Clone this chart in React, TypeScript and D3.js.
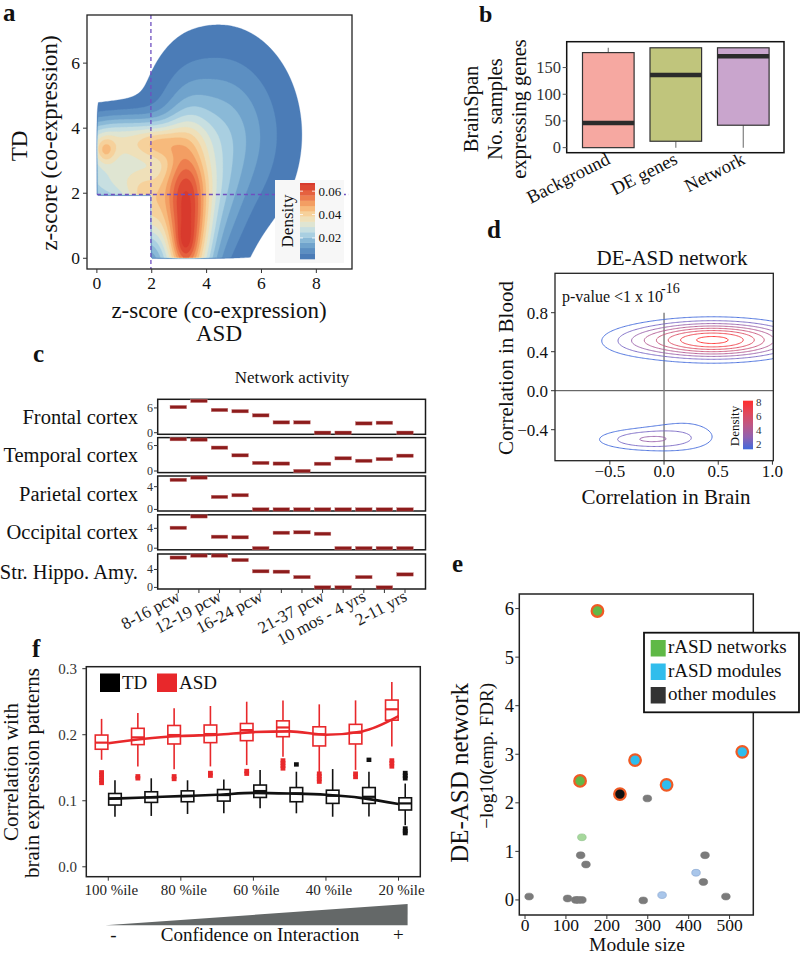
import React, { useMemo } from "react";
import * as d3 from "d3";

const FONT = "'Liberation Serif', 'Times New Roman', serif";

/* ---------------- panel a : density of z-scores ---------------- */
const aXTicks = [0, 2, 4, 6, 8];
const aYTicks = [0, 2, 4, 6];
const aLegendTicks = [0.02, 0.04, 0.06];
const aThresholds = [0.0025, 0.007, 0.0115, 0.016, 0.0205, 0.025, 0.0295, 0.034, 0.0385, 0.043, 0.0475, 0.052, 0.0565, 0.061, 0.0655];
const aPalette = ["#4171b1", "#5d91c4", "#87b9d7", "#c4e3eb", "#f0e8c8", "#f9cd8c", "#f4985a", "#e45c3d", "#d7372b"];
// density surface components: broad, ridge, ridge peak, right shoulder, upper-left plateau (2), lower plateau, arm, left peak
const aKernelX = [4.5, 3.25, 3.2, 4.4, 0.8, 0.8, 1.8, 2.2, 0.3];
const aKernelY = [3.8, 1.0, 0.45, 1.5, 2.4, 3.7, 1.3, 3.5, 3.3];
const aKernelSX = [1.5, 0.6, 0.25, 0.7, 1.5, 1.5, 0.55, 0.55, 0.28];
const aKernelSY = [1.7, 1.8, 0.4, 1.5, 0.7, 0.5, 0.8, 0.35, 0.3];
const aKernelA = [0.0178, 0.058, 0.008, 0.009, 0.028, 0.027, 0.026, 0.013, 0.014];
const aCut = [1.97, 1.96];

/* ---------------- panel b : BrainSpan boxplot ---------------- */
const bCategories = ["Background", "DE genes", "Network"];
const bMin = [0, 0, 0];
const bQ1 = [0, 12, 42];
const bMedian = [46, 136, 171];
const bQ3 = [178, 187, 187];
const bMax = [187, 187, 187];
const bColors = ["#f6a8a1", "#c0c57c", "#c9a5cd"];
const bYTicks = [0, 50, 100, 150];

/* ---------------- panel c : network activity ---------------- */
const cPeriods = ["8-16 pcw", "", "12-19 pcw", "", "16-24 pcw", "", "", "21-37 pcw", "", "10 mos - 4 yrs", "", "2-11 yrs"];
const cRegions = ["Frontal cortex", "Temporal cortex", "Parietal cortex", "Occipital cortex", "Str. Hippo. Amy."];
const cFrontal = [6.2, 7.7, 5.5, 5.2, 4.2, 2.5, 2.5, 0, 0, 2.25, 2.4, 0];
const cTemporal = [7.5, 7.4, 5.5, 3.7, 1.9, 1.75, 0, 1.7, 3.0, 2.4, 2.8, 3.6];
const cParietal = [5.2, 5.6, 2.2, 2.5, 0, 0, 0, 0, 0, 0, 0, 0];
const cOccipital = [4.1, 6.4, 2.3, 2.2, 0, 3.1, 3.2, 2.9, 0, 0, 0, 0];
const cStrHippo = [6.65, 7.1, 7.1, 6.1, 3.6, 3.5, 2.3, 0, 0, 2.3, 0, 2.9];
const cTicks = [[0, 6], [0, 6], [0, 4], [0, 4], [0, 4]];

/* ---------------- panel d : brain vs blood correlation ---------------- */
const dXTicks = [-0.5, 0, 0.5, 1.0];
const dXLabels = ["\u22120.5", "0.0", "0.5", "1.0"];
const dYTicks = [-0.4, 0, 0.4, 0.8];
const dYLabels = ["\u22120.4", "0.0", "0.4", "0.8"];
const dLevels = [1.2, 2.2, 3.2, 4.2, 5.2, 6.2, 7.2, 8.2];
const dLegendTicks = [2, 4, 6, 8];
const dKernelX = [0.25, 0.65, -0.3, -0.2, 0.2];
const dKernelY = [0.52, 0.52, 0.5, -0.5, -0.44];
const dKernelSX = [0.42, 0.42, 0.25, 0.3, 0.28];
const dKernelSY = [0.12, 0.12, 0.1, 0.075, 0.15];
const dKernelA = [4.8, 4.8, 0.8, 2.8, 1.4];

/* ---------------- panel e : module enrichment ---------------- */
const eSize = [177, 134.5, 269, 232, 346, 531, 10, 104, 124, 139, 130, 136, 149, 139, 299, 289, 335, 418, 440, 436, 491];
const eFDR = [5.95, 2.45, 2.88, 2.18, 2.37, 3.05, 0.07, 0.03, 0, 0, 0, 0.92, 0.73, 1.29, 2.09, -0.01, 0.1, 0.56, 0.92, 0.37, 0.07];
const eType = ["network", "network", "module", "other", "module", "module", "other", "other", "other", "other", "other", "other", "other", "network", "other", "other", "module", "module", "other", "other", "other"];
const eSignif = [1, 1, 1, 1, 1, 1, 0, 0, 0, 0, 0, 0, 0, 0, 0, 0, 0, 0, 0, 0, 0];
const eXTicks = [0, 100, 200, 300, 400, 500];
const eYTicks = [0, 1, 2, 3, 4, 5, 6];
const eLegend = ["rASD networks", "rASD modules", "other modules"];

/* ---------------- panel f : correlation boxplots ---------------- */
const fTickIdx = [0, 2, 4, 6, 8];
const fTickLabels = ["100 %ile", "80 %ile", "60 %ile", "40 %ile", "20 %ile"];
const fYTicks = [0, 0.1, 0.2, 0.3];
const asdQ1 = [0.178, 0.185, 0.186, 0.188, 0.191, 0.197, 0.183, 0.186, 0.222];
const asdMed = [0.188, 0.196, 0.1995, 0.201, 0.207, 0.211, 0.2005, 0.203, 0.2385];
const asdQ3 = [0.1995, 0.2097, 0.214, 0.2147, 0.217, 0.221, 0.212, 0.2157, 0.2525];
const asdLo = [0.162, 0.152, 0.1476, 0.152, 0.154, 0.1667, 0.1415, 0.1467, 0.182];
const asdHi = [0.224, 0.233, 0.24, 0.2435, 0.25, 0.252, 0.246, 0.252, 0.28];
const asdOut = [[0.143, 0.139, 0.135, 0.131, 0.127], [0.137, 0.134], [0.137, 0.133], [0.142, 0.138], [0.145, 0.141], [0.161, 0.157, 0.153, 0.149], [0.141, 0.137, 0.133, 0.129], [0.141, 0.136], [0.161, 0.157, 0.152]];
const asdTrend = [0.187, 0.194, 0.198, 0.2, 0.204, 0.205, 0.2, 0.205, 0.228];
const tdQ1 = [0.0935, 0.0975, 0.0985, 0.0995, 0.105, 0.0985, 0.096, 0.096, 0.086];
const tdMed = [0.1036, 0.105, 0.107, 0.1086, 0.1147, 0.111, 0.1076, 0.106, 0.096];
const tdQ3 = [0.111, 0.1136, 0.115, 0.117, 0.1238, 0.12, 0.116, 0.12, 0.1045];
const tdLo = [0.0758, 0.077, 0.08, 0.081, 0.0885, 0.081, 0.0758, 0.076, 0.063];
const tdHi = [0.131, 0.134, 0.131, 0.132, 0.1465, 0.144, 0.148, 0.144, 0.126];
const tdOut = [[], [], [], [], [], [0.155], [], [0.162], [0.142, 0.138, 0.134, 0.058, 0.054, 0.051]];
const tdTrend = [0.103, 0.105, 0.107, 0.109, 0.112, 0.111, 0.109, 0.104, 0.095];

/* ---------------- helpers ---------------- */
function mixture(x: number, y: number, kx: number[], ky: number[], sx: number[], sy: number[], a: number[]) {
  let s = 0;
  for (let i = 0; i < kx.length; i++) {
    const dx = x - kx[i], dy = y - ky[i];
    s += a[i] * Math.exp(-(dx * dx) / (2 * sx[i] * sx[i]) - (dy * dy) / (2 * sy[i] * sy[i]));
  }
  return s;
}

function makeContours(xs: any, ys: any, f: (x: number, y: number) => number, thresholds: number[], cell: number) {
  const [x0, x1] = xs.range();
  const [yb, yt] = ys.range();
  const nx = Math.ceil((x1 - x0) / cell);
  const ny = Math.ceil((yb - yt) / cell);
  const values: number[] = new Array(nx * ny);
  for (let j = 0; j < ny; j++)
    for (let i = 0; i < nx; i++)
      values[j * nx + i] = f(xs.invert(x0 + (i + 0.5) * cell), ys.invert(yt + (j + 0.5) * cell));
  const cs = d3.contours().size([nx, ny]).thresholds(thresholds)(values);
  const proj = d3.geoTransform({
    point: function (this: any, x: number, y: number) {
      this.stream.point(x0 + x * cell, yt + y * cell);
    },
  });
  const path = d3.geoPath(proj as any);
  return cs.map((c) => ({ value: c.value, d: path(c as any) || "" }));
}

const T = (props: any) => <text fontFamily={FONT} fill="#111" {...props} />;

export default function App() {
  /* ---- panel a ---- */
  const ax = d3.scaleLinear([-0.36, 9.3], [87, 352]);
  const ay = d3.scaleLinear([-0.33, 7.48], [269, 15]);
  const aColor = d3.interpolateRgbBasis(aPalette);
  const aNorm = d3.scaleLinear([0.002, 0.067], [0, 1]).clamp(true);
  const aBandColor = (k: number) => {
    const lo = aThresholds[k];
    const hi = k + 1 < aThresholds.length ? aThresholds[k + 1] : 0.067;
    return aColor(aNorm((lo + hi) / 2));
  };
  const aContours = useMemo(
    () =>
      makeContours(ax, ay, (x, y) => {
        if (x < 0 || y < 0 || (x < aCut[0] && y < aCut[1])) return 0;
        return mixture(x, y, aKernelX, aKernelY, aKernelSX, aKernelSY, aKernelA);
      }, aThresholds, 1.5),
    []
  );
  const aLy = d3.scaleLinear([0.002, 0.067], [259, 183]);

  /* ---- panel b ---- */
  const bx = d3.scalePoint(bCategories, [608.3, 743.3]);
  const by = d3.scaleLinear([-9.45, 198.4], [152.7, 41.7]);
  const bHalf = 25.8;

  /* ---- panel c ---- */
  const cx = d3.scaleLinear([0, 11], [178.3, 405]);
  const cSeries = [cFrontal, cTemporal, cParietal, cOccipital, cStrHippo];
  const cTops = [399.3, 437.6, 476, 514.8, 554];
  const cH = 35;
  const cLeft = 157.7, cRight = 425.5;

  /* ---- panel d ---- */
  const dx = d3.scaleLinear([-1.006, 1.008], [555, 773.3]);
  const dy = d3.scaleLinear([-0.718, 1.204], [460.7, 273.3]);
  const dInterp = d3.interpolateLab("#4169dc", "#ff2e2e");
  const dColor = (v: number) => dInterp((v - 1.2) / 7.0);
  const dContours = useMemo(
    () => makeContours(dx, dy, (x, y) => mixture(x, y, dKernelX, dKernelY, dKernelSX, dKernelSY, dKernelA), dLevels, 1.2),
    []
  );
  const dLy = d3.scaleLinear([1.25, 8.14], [449.3, 400.7]);

  /* ---- panel e ---- */
  const ex = d3.scaleLinear([-14, 558], [519.3, 753.3]);
  const ey = d3.scaleLinear([-0.31, 6.3], [915, 594]);
  const eFill: any = { network: "#62b847", module: "#2ebdee", other: "#111111" };
  const eFillFaded: any = { network: "#a6d89c", module: "#a9c6ea", other: "#7b7b7b" };
  const eStrokeFaded: any = { network: "#8cbf88", module: "#7f9fcc", other: "#777" };
  const eLegendColors = ["#5fb946", "#31bdec", "#333333"];

  /* ---- panel f ---- */
  const fx = d3.scaleLinear([-0.6, 8.6], [86.5, 420.3]);
  const fy = d3.scaleLinear([-0.015, 0.303], [876.7, 666.7]);
  const fDodge = 6.7, fHalf = 6.3;
  const fLine = d3.line<number>().x((_, i) => fx(i)).y((d) => fy(d)).curve(d3.curveMonotoneX);

  const boxF = (i: number, off: number, q1: number, med: number, q3: number, lo: number, hi: number, outs: number[], col: string, key: string) => {
    const x = fx(i) + off;
    return (
      <g key={key}>
        <line x1={x} x2={x} y1={fy(q3)} y2={fy(hi)} stroke={col} strokeWidth={1.6} />
        <line x1={x} x2={x} y1={fy(q1)} y2={fy(lo)} stroke={col} strokeWidth={1.6} />
        <rect x={x - fHalf} y={fy(q3)} width={2 * fHalf} height={fy(q1) - fy(q3)} fill="#fff" stroke={col} strokeWidth={1.6} />
        <line x1={x - fHalf} x2={x + fHalf} y1={fy(med)} y2={fy(med)} stroke={col} strokeWidth={2.2} />
        {outs.map((o, k) => (
          <rect key={k} x={x - 2.4} y={fy(o) - 2.2} width={4.8} height={4.4} fill={col} />
        ))}
      </g>
    );
  };

  return (
    <svg width={800} height={955} style={{ position: "absolute", left: 0, top: 0, background: "#fff" }}>
      <rect x={0} y={0} width={800} height={955} fill="#fff" />
      <defs>
        <clipPath id="clipA"><rect x={87} y={15} width={265} height={254} /></clipPath>
        <clipPath id="clipD"><rect x={555} y={273.3} width={218.3} height={187.4} /></clipPath>
        <linearGradient id="gradD" x1="0" y1="1" x2="0" y2="0">
          {[0, 0.25, 0.5, 0.75, 1].map((t) => (
            <stop key={t} offset={t} stopColor={dInterp(t)} />
          ))}
        </linearGradient>
      </defs>

      {/* ================= panel a ================= */}
      <T x={3} y={21} fontSize={25} fontWeight="bold">a</T>
      <g clipPath="url(#clipA)">
        {aContours.map((c, k) => (
          <path key={k} d={c.d} fill={aBandColor(k)} stroke={aBandColor(k)} strokeWidth={0.3} />
        ))}
      </g>
      <line x1={ax(aCut[0])} x2={ax(aCut[0])} y1={15} y2={269} stroke="#6f4fc0" strokeWidth={1.3} strokeDasharray="4,3" />
      <line x1={ax(0)} x2={349} y1={ay(aCut[1])} y2={ay(aCut[1])} stroke="#6f4fc0" strokeWidth={1.3} strokeDasharray="4,3" />
      {/* legend */}
      <rect x={275} y={180} width={69} height={83} fill="#f7f7f7" />
      {aThresholds.map((t, k) => {
        const hi = k + 1 < aThresholds.length ? aThresholds[k + 1] : 0.067;
        const lo = k === 0 ? 0.002 : t;
        return <rect key={k} x={300} y={aLy(hi)} width={15} height={aLy(lo) - aLy(hi) + 0.3} fill={aBandColor(k)} />;
      })}
      {aLegendTicks.map((v) => (
        <g key={v}>
          <line x1={300} x2={303} y1={aLy(v)} y2={aLy(v)} stroke="#fff" strokeWidth={0.8} />
          <line x1={312} x2={315} y1={aLy(v)} y2={aLy(v)} stroke="#fff" strokeWidth={0.8} />
          <T x={318.5} y={aLy(v) + 4.5} fontSize={13}>{v.toFixed(2)}</T>
        </g>
      ))}
      <T transform={`translate(293,221) rotate(-90)`} fontSize={17} textAnchor="middle">Density</T>
      <rect x={87} y={15} width={265} height={254} fill="none" stroke="#222" strokeWidth={1.3} />
      {aXTicks.map((v) => (
        <g key={v}>
          <line x1={ax(v)} x2={ax(v)} y1={269} y2={273} stroke="#333" />
          <T x={ax(v)} y={289} fontSize={17.5} textAnchor="middle">{v}</T>
        </g>
      ))}
      {aYTicks.map((v) => (
        <g key={v}>
          <line x1={83} x2={87} y1={ay(v)} y2={ay(v)} stroke="#333" />
          <T x={80} y={ay(v) + 6} fontSize={17.5} textAnchor="end">{v}</T>
        </g>
      ))}
      <T transform={`translate(27,146) rotate(-90)`} fontSize={23} textAnchor="middle">TD</T>
      <T transform={`translate(57,143) rotate(-90)`} fontSize={23} textAnchor="middle">z-score (co-expression)</T>
      <T x={219} y={318} fontSize={23} textAnchor="middle">z-score (co-expression)</T>
      <T x={219} y={341} fontSize={23} textAnchor="middle">ASD</T>

      {/* ================= panel b ================= */}
      <T x={479} y={22} fontSize={24} fontWeight="bold">b</T>
      {bCategories.map((c, i) => {
        const x = bx(c) as number;
        return (
          <g key={c}>
            {bMax[i] > bQ3[i] && <line x1={x} x2={x} y1={by(bQ3[i])} y2={by(bMax[i])} stroke="#8a8a8a" strokeWidth={1.3} />}
            {bMin[i] < bQ1[i] && <line x1={x} x2={x} y1={by(bQ1[i])} y2={by(bMin[i])} stroke="#8a8a8a" strokeWidth={1.3} />}
            <rect x={x - bHalf} y={by(bQ3[i])} width={2 * bHalf} height={by(bQ1[i]) - by(bQ3[i])} fill={bColors[i]} stroke="#333" strokeWidth={1.2} />
            <line x1={x - bHalf} x2={x + bHalf} y1={by(bMedian[i])} y2={by(bMedian[i])} stroke="#2b2b2b" strokeWidth={4.5} />
            <T transform={`translate(${x + 3},${163}) rotate(-27)`} fontSize={18.5} textAnchor="end">{c}</T>
          </g>
        );
      })}
      <rect x={566.7} y={41.7} width={217.3} height={111} fill="none" stroke="#111" strokeWidth={1.5} />
      {bYTicks.map((v) => (
        <g key={v}>
          <line x1={562.7} x2={566.7} y1={by(v)} y2={by(v)} stroke="#555" />
          <T x={561} y={by(v) + 5.5} fontSize={16.5} textAnchor="end" fill="#333">{v}</T>
        </g>
      ))}
      <T transform={`translate(478,109) rotate(-90)`} fontSize={20.5} textAnchor="middle">BrainSpan</T>
      <T transform={`translate(502,109) rotate(-90)`} fontSize={20.5} textAnchor="middle">No. samples</T>
      <T transform={`translate(526,109) rotate(-90)`} fontSize={20.5} textAnchor="middle">expressing genes</T>

      {/* ================= panel c ================= */}
      <T x={33} y={362} fontSize={25} fontWeight="bold">c</T>
      <T x={292} y={383} fontSize={17} textAnchor="middle">Network activity</T>
      {cSeries.map((vals, s) => {
        const top = cTops[s];
        const mx = d3.max(vals) as number;
        const sy = d3.scaleLinear([-0.05 * mx, 1.05 * mx], [top + cH, top]);
        return (
          <g key={s}>
            <rect x={cLeft} y={top} width={cRight - cLeft} height={cH} fill="#fff" stroke="#1a1a1a" strokeWidth={1.5} />
            {vals.map((v, i) => (
              <rect key={i} x={cx(i) - 8.3} y={sy(v) - 1.7} width={16.6} height={3.4} fill="#8d1c1c" stroke="#c98080" strokeWidth={0.4} />
            ))}
            {cTicks[s].map((t) => (
              <g key={t}>
                <line x1={154} x2={cLeft} y1={sy(t)} y2={sy(t)} stroke="#333" />
                <T x={153} y={sy(t) + 4} fontSize={12} textAnchor="end" fill="#333">{t}</T>
              </g>
            ))}
            <T x={138} y={top + cH / 2 + 7} fontSize={20.5} textAnchor="end">{cRegions[s]}</T>
          </g>
        );
      })}
      {cPeriods.map((p, i) => (
        <g key={i}>
          <line x1={cx(i)} x2={cx(i)} y1={cTops[4] + cH} y2={cTops[4] + cH + 4} stroke="#333" />
          {p && (
            <T transform={`translate(${cx(i) + 3},${600}) rotate(-28)`} fontSize={17} textAnchor="end" fill="#222">{p}</T>
          )}
        </g>
      ))}

      {/* ================= panel d ================= */}
      <T x={487} y={238} fontSize={25} fontWeight="bold">d</T>
      <T x={672} y={265} fontSize={21} textAnchor="middle">DE-ASD network</T>
      <line x1={555} x2={773.3} y1={dy(0)} y2={dy(0)} stroke="#444" strokeWidth={1} />
      <line x1={dx(0)} x2={dx(0)} y1={dy(0.8)} y2={460.7} stroke="#7a7a7a" strokeWidth={1.4} />
      <g clipPath="url(#clipD)">
        {dContours.map((c, k) => (
          <path key={k} d={c.d} fill="none" stroke={dColor(c.value)} strokeWidth={1} strokeOpacity={0.9} />
        ))}
      </g>
      <rect x={555} y={273.3} width={218.3} height={187.4} fill="none" stroke="#222" strokeWidth={1.3} />
      <T x={562} y={302} fontSize={16}>p-value &lt;1 x 10</T>
      <T x={661} y={293} fontSize={14}>-16</T>
      {dXTicks.map((v, i) => (
        <g key={v}>
          <line x1={dx(v)} x2={dx(v)} y1={460.7} y2={464.7} stroke="#333" />
          <T x={dx(v)} y={477} fontSize={17} textAnchor="middle">{dXLabels[i]}</T>
        </g>
      ))}
      {dYTicks.map((v, i) => (
        <g key={v}>
          <line x1={551} x2={555} y1={dy(v)} y2={dy(v)} stroke="#333" />
          <T x={548} y={dy(v) + 6} fontSize={17} textAnchor="end">{dYLabels[i]}</T>
        </g>
      ))}
      <T x={666} y={504} fontSize={21} textAnchor="middle">Correlation in Brain</T>
      <T transform={`translate(513,368) rotate(-90)`} fontSize={21} textAnchor="middle">Correlation in Blood</T>
      <rect x={743} y={400.7} width={10} height={48.6} fill="url(#gradD)" />
      {dLegendTicks.map((v) => (
        <T key={v} x={756} y={dLy(v) + 4} fontSize={11} fill="#333">{v}</T>
      ))}
      <T transform={`translate(739,426) rotate(-90)`} fontSize={13} textAnchor="middle">Density</T>

      {/* ================= panel e ================= */}
      <T x={452} y={572} fontSize={25} fontWeight="bold">e</T>
      <rect x={519.3} y={594} width={234} height={321} fill="none" stroke="#222" strokeWidth={1.5} />
      {eSize.map((s, i) =>
        eSignif[i] ? null : (
          <ellipse key={i} cx={ex(s)} cy={ey(eFDR[i])} rx={4.3} ry={3.4} fill={eFillFaded[eType[i]]} stroke={eStrokeFaded[eType[i]]} strokeWidth={0.6} />
        )
      )}
      {eSize.map((s, i) =>
        eSignif[i] ? (
          <circle key={i} cx={ex(s)} cy={ey(eFDR[i])} r={5.8} fill={eFill[eType[i]]} stroke="#f05a24" strokeWidth={2.2} />
        ) : null
      )}
      {eXTicks.map((v) => (
        <g key={v}>
          <line x1={ex(v)} x2={ex(v)} y1={915} y2={919} stroke="#333" />
          <T x={ex(v)} y={930.5} fontSize={17.5} textAnchor="middle">{v}</T>
        </g>
      ))}
      {eYTicks.map((v) => (
        <g key={v}>
          <line x1={515.3} x2={519.3} y1={ey(v)} y2={ey(v)} stroke="#333" />
          <T x={514} y={ey(v) + 6.5} fontSize={18.5} textAnchor="end">{v}</T>
        </g>
      ))}
      <T x={637} y={950.5} fontSize={19.5} textAnchor="middle">Module size</T>
      <T transform={`translate(468,683) rotate(-90)`} fontSize={25} textAnchor="end">DE-ASD network</T>
      <T transform={`translate(493,683) rotate(-90)`} fontSize={19} textAnchor="end">{"\u2212log10(emp. FDR)"}</T>
      <rect x={644} y={632.7} width={155} height={79.6} fill="#fff" stroke="#111" strokeWidth={1.8} />
      {eLegend.map((l, i) => (
        <g key={l}>
          <rect x={650.7} y={640 + i * 23.5} width={15} height={16.5} fill={eLegendColors[i]} />
          <T x={668} y={653 + i * 23.5} fontSize={19}>{l}</T>
        </g>
      ))}

      {/* ================= panel f ================= */}
      <T x={32} y={657} fontSize={25} fontWeight="bold">f</T>
      {asdMed.map((m, i) => boxF(i, -fDodge, asdQ1[i], m, asdQ3[i], asdLo[i], asdHi[i], asdOut[i], "#e8282b", "a" + i))}
      {tdMed.map((m, i) => boxF(i, fDodge, tdQ1[i], m, tdQ3[i], tdLo[i], tdHi[i], tdOut[i], "#111", "t" + i))}
      <path d={fLine(asdTrend) || ""} fill="none" stroke="#e8282b" strokeWidth={2.6} />
      <path d={fLine(tdTrend) || ""} fill="none" stroke="#111" strokeWidth={2.6} />
      <rect x={86.3} y={666.7} width={334} height={210} fill="none" stroke="#222" strokeWidth={1.5} />
      <rect x={100} y={673.5} width={20} height={18.5} fill="#000" />
      <T x={122} y={689} fontSize={19}>TD</T>
      <rect x={157} y={673.5} width={20} height={18.5} fill="#e8282b" />
      <T x={179} y={689} fontSize={19}>ASD</T>
      {fYTicks.map((v) => (
        <g key={v}>
          <line x1={82.3} x2={86.3} y1={fy(v)} y2={fy(v)} stroke="#333" />
          <T x={77} y={fy(v) + 5} fontSize={15} textAnchor="end" fill="#333">{v.toFixed(1)}</T>
        </g>
      ))}
      {fTickIdx.map((idx, k) => (
        <g key={idx}>
          <line x1={fx(idx)} x2={fx(idx)} y1={876.7} y2={880.7} stroke="#333" />
          <T x={fx(idx) + 3} y={895} fontSize={15} textAnchor="middle" fill="#222">{fTickLabels[k]}</T>
        </g>
      ))}
      <T transform={`translate(18,772) rotate(-90)`} fontSize={21} textAnchor="middle">Correlation with</T>
      <T transform={`translate(39,773) rotate(-90)`} fontSize={21} textAnchor="middle">brain expression patterns</T>
      <path d={`M${fx(-0.08)},925.3 L${fx(8.25)},904 L${fx(8.25)},925.3 Z`} fill="#646868" />
      <T x={113.3} y={941} fontSize={19} textAnchor="middle">-</T>
      <T x={260} y={941} fontSize={19} textAnchor="middle">Confidence on Interaction</T>
      <T x={398.3} y={941} fontSize={19} textAnchor="middle">+</T>
    </svg>
  );
}
